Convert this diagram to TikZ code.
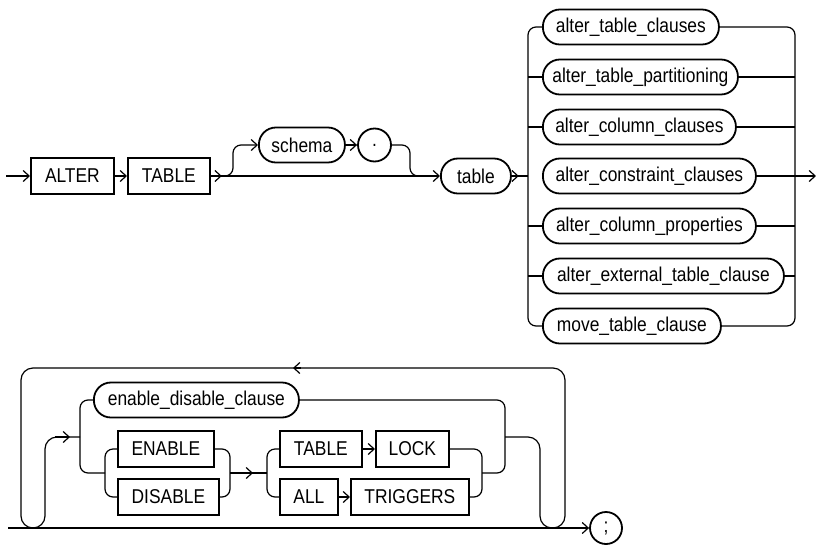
\documentclass[tikz,border=0pt]{standalone}
\usepackage{fontspec}
\setmainfont{Liberation Sans}[FakeStretch=0.87]
\usetikzlibrary{arrows.meta}

\begin{document}
\begin{tikzpicture}[x=1pt, y=-1pt, line width=1.2pt,
    >={Straight Barb[length=6pt,width=11pt]},
    kw/.style={draw, line width=1.8pt, minimum height=36pt, inner sep=0pt, anchor=west,
      font=\fontsize{20}{24}\selectfont},
    nt/.style={draw, line width=1.8pt, rounded corners=17pt, minimum height=35pt, inner sep=0pt,
      anchor=west, font=\fontsize{20}{24}\selectfont},
    ring/.style={draw, circle, line width=1.8pt, inner sep=0pt, font=\fontsize{20}{24}\selectfont},
    rr/.style={rounded corners=8pt}]
    \useasboundingbox (0,0) rectangle (816,544);
    % ALTER TABLE [schema .] table
    \node[kw, minimum width=83pt] (alter) at (30,176) {ALTER};
    \node[kw, minimum width=82pt] (kwtable) at (127,176) {TABLE};
    \node[nt, minimum width=86pt] (schema) at (258,145) {schema};
    \node[ring, minimum size=33pt] (dot) at (374.5,145) {.};
    \node[nt, minimum width=70pt] (tbl) at (440,176) {table};
    \coordinate (start) at (6,176);
    \coordinate (split) at (224,176);
    \coordinate (join) at (418,176);
    \draw[->] (start) -- (alter.west);
    \draw[->] (alter.east) -- (kwtable.west);
    \draw[->] (kwtable.east) -- ++(11,0);
    \draw[->] (kwtable.east) -- (tbl.west);
    \draw[->, rr] (split) -| (233,145) -- (schema.west);
    \draw[->] (schema.east) -- (dot.west);
    \draw[rr] (dot.east) -| (410,176) -- (join);
    % Alternatives
    \node[nt, minimum width=176pt] (atc) at (542,27) {alter\_table\_clauses};
    \node[nt, minimum width=195pt] (atp) at (542,77) {alter\_table\_partitioning};
    \node[nt, minimum width=193pt] (acc) at (542,127) {alter\_column\_clauses};
    \node[nt, minimum width=213pt] (acon) at (542,176) {alter\_constraint\_clauses};
    \node[nt, minimum width=213pt] (acp) at (542,226) {alter\_column\_properties};
    \node[nt, minimum width=241pt] (aetc) at (542,276) {alter\_external\_table\_clause};
    \node[nt, minimum width=178pt] (mtc) at (542,326) {move\_table\_clause};
    \coordinate (lbus) at (528,0);
    \coordinate (rbus) at (795,0);
    \coordinate (exit) at (816,176);
    \draw[->] (tbl.east) -- ++(7,0);
    \draw (tbl.east) -- (tbl.east -| lbus);
    \draw[rr] (atc.west) -| (lbus |- mtc) -- (mtc.west);
    \draw[rr] (atc.east) -| (rbus |- mtc) -- (mtc.east);
    \draw (atp.west) -- (atp.west -| lbus);
    \draw (acc.west) -- (acc.west -| lbus);
    \draw (acp.west) -- (acp.west -| lbus);
    \draw (aetc.west) -- (aetc.west -| lbus);
    \draw (atp.east) -- (atp.east -| rbus);
    \draw (acc.east) -- (acc.east -| rbus);
    \draw (acon.east) -- (acon.east -| rbus);
    \draw (acp.east) -- (acp.east -| rbus);
    \draw (aetc.east) -- (aetc.east -| rbus);
    \draw[->] (acon.east -| rbus) -- (exit);
    % Repeated clauses, then ;
    \node[nt, minimum width=205pt] (edc) at (93,400) {enable\_disable\_clause};
    \node[kw, minimum width=96pt] (enable) at (117,449) {ENABLE};
    \node[kw, minimum width=101pt] (disable) at (117,497) {DISABLE};
    \node[kw, minimum width=82pt] (tablekw) at (279,449) {TABLE};
    \node[kw, minimum width=73pt] (lock) at (375,449) {LOCK};
    \node[kw, minimum width=58pt] (all) at (279,497) {ALL};
    \node[kw, minimum width=118pt] (triggers) at (350,497) {TRIGGERS};
    \node[ring, minimum size=32pt] (semi) at (606,528) {;};
    \coordinate (in) at (8,528);
    \coordinate (loopin) at (80,437);
    \coordinate (loopout) at (505,437);
    \draw[->] (in) -- (semi.west);
    % Loop back
    \draw[rounded corners=12pt] (loopout) -| (540,528) -| (565,368) -| (21,528) -| (45,437) -- (loopin);
    \draw[->] (301,368) -- (293,368);
    \draw[->] (55,437) -- (70,437);
    % Options
    \draw[rr] (edc.west) -| (80,473) -- (105,473);
    \draw[rr] (enable.west) -| (105,497) -- (disable.west);
    \draw[rr] (enable.east) -| (230,497) -- (disable.east);
    \draw[->] (230,473) -- (253,473);
    \draw (230,473) -- (267,473);
    \draw[rr] (tablekw.west) -| (267,497) -- (all.west);
    \draw[->] (tablekw.east) -- (lock.west);
    \draw[->] (all.east) -- (triggers.west);
    \draw[rr] (lock.east) -| (482,497) -- (triggers.east);
    \draw[rr] (edc.east) -| (505,473) -- (482,473);
\end{tikzpicture}
\end{document}
